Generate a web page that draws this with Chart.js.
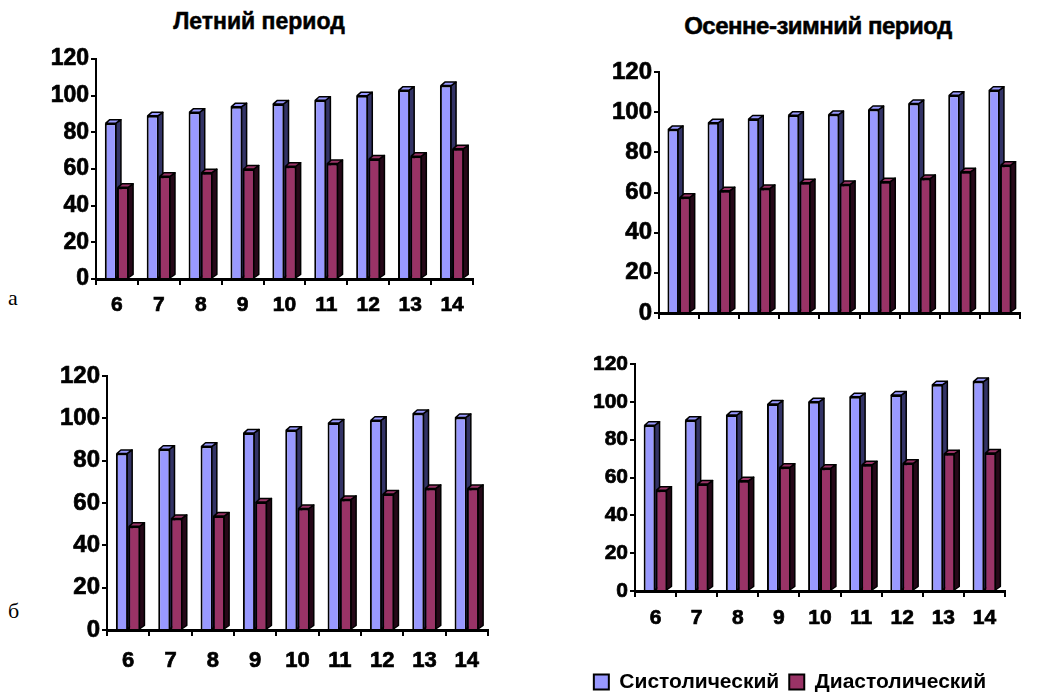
<!DOCTYPE html>
<html>
<head>
<meta charset="utf-8">
<script src="https://cdn.jsdelivr.net/npm/chart.js@4.4.1/dist/chart.umd.min.js"></script>
<style>
  html, body { margin: 0; padding: 0; background: #fff; width: 1062px; height: 697px; overflow: hidden; }
  canvas { position: absolute; left: 0; top: 0; }
  .title { position: absolute; font-family: 'Liberation Sans', Arial, sans-serif; font-weight: bold; color: #000;
           white-space: nowrap; transform: translate(-50%, -50%); -webkit-text-stroke: 0.5px #000; }
  .mark { position: absolute; font-family: 'Liberation Serif', 'Times New Roman', serif; font-size: 22px; color: #000; }
</style>
</head>
<body>
<div class="title" style="left:259px; top:21px; font-size:23px;">Летний период</div>
<div class="title" style="left:818px; top:26px; font-size:24px; letter-spacing:-0.5px;">Осенне-зимний период</div>
<div class="mark" style="left:8px; top:285px;">а</div>
<div class="mark" style="left:8px; top:598px;">б</div>
<canvas id="chartA" width="1062" height="720"></canvas>
<canvas id="chartB" width="1062" height="720"></canvas>
<canvas id="chartC" width="1062" height="720"></canvas>
<canvas id="chartD" width="1062" height="720"></canvas>
<script>
// ages (years) on the x axis
const ages = ['6', '7', '8', '9', '10', '11', '12', '13', '14'];
const seriesNames = ['Систолический', 'Диастолический'];

// а: summer / autumn-winter
const summerSysA = [85, 89, 91, 94, 95.5, 97.5, 100, 103, 105.5];
const summerDiaA = [50, 56, 58, 60, 61.5, 63, 65.5, 67, 71];
const autumnSysA = [91.4, 94.7, 96.6, 98.5, 98.8, 101.3, 104.3, 108.4, 110.9];
const autumnDiaA = [57.6, 60.9, 62, 64.9, 64, 65.4, 67, 70.3, 73.6];

// б: summer / autumn-winter
const summerSysB = [83.4, 85.4, 86.8, 93.1, 94.4, 97.8, 99.1, 102.3, 100.4];
const summerDiaB = [49, 52.7, 53.8, 60.5, 57.4, 61.7, 64.2, 66.9, 66.9];
const autumnSysB = [87.6, 90.3, 93, 98.8, 100, 102.7, 103.6, 109, 110.7];
const autumnDiaB = [53.3, 56.5, 58.3, 65.4, 64.9, 66.7, 67.5, 72.5, 72.9];

const yMin = 0, yMax = 120, yStep = 20;

const frontColors = ['#9999FF', '#993366'];
const sideColors = ['#333366', '#260818'];
const topColors = ['#9999FF', '#993366'];
const FONT = "'Liberation Sans', Arial, sans-serif";
const W = 1062, H = 720;
const DX = 4, DY = 3.5;

function drawDepth(ctx, bar, side, top) {
  const p = bar.getProps(['x', 'y', 'base', 'width'], true);
  const l = p.x - p.width / 2, r = p.x + p.width / 2;
  ctx.lineWidth = 1.5;
  ctx.strokeStyle = '#000';
  ctx.lineJoin = 'round';
  ctx.fillStyle = side;
  ctx.beginPath();
  ctx.moveTo(r - 1, p.y); ctx.lineTo(r + DX, p.y - DY);
  ctx.lineTo(r + DX, p.base - DY); ctx.lineTo(r - 1, p.base);
  ctx.closePath(); ctx.fill(); ctx.stroke();
  ctx.fillStyle = top;
  ctx.beginPath();
  ctx.moveTo(l + 1, p.y); ctx.lineTo(l + 1 + DX, p.y - DY);
  ctx.lineTo(r + DX, p.y - DY); ctx.lineTo(r - 1, p.y);
  ctx.closePath(); ctx.fill(); ctx.stroke();
}

// fake Excel 3D look: side + top faces, red front redrawn over blue side
const depth3d = {
  id: 'depth3d',
  afterDatasetsDraw(chart) {
    const ctx = chart.ctx;
    const m0 = chart.getDatasetMeta(0), m1 = chart.getDatasetMeta(1);
    ctx.save();
    m0.data.forEach((bar, i) => {
      drawDepth(ctx, bar, sideColors[0], topColors[0]);
      m1.data[i].draw(ctx);
      drawDepth(ctx, m1.data[i], sideColors[1], topColors[1]);
    });
    ctx.restore();
  }
};

function buildChart(id, sys, dia, g) {
  const yw = 60;
  return new Chart(document.getElementById(id), {
    type: 'bar',
    data: {
      labels: ages,
      datasets: [
        { label: seriesNames[0], data: sys, backgroundColor: frontColors[0], borderColor: '#000', borderWidth: 2 },
        { label: seriesNames[1], data: dia, backgroundColor: frontColors[1], borderColor: '#000', borderWidth: 2 }
      ]
    },
    options: {
      responsive: false,
      animation: false,
      events: [],
      datasets: { bar: { categoryPercentage: 0.58, barPercentage: 1 } },
      layout: { padding: { left: g.left - yw, top: g.top, right: W - g.right, bottom: g.padBottom } },
      plugins: {
        tooltip: { enabled: false },
        legend: {
          display: !!g.legend,
          position: 'bottom',
          labels: { color: '#000', font: { family: FONT, size: 21, weight: 'bold' }, boxWidth: 15, boxHeight: 15, padding: 10 }
        }
      },
      scales: {
        x: {
          grid: { display: true, drawOnChartArea: false, drawTicks: true, tickLength: 6, color: '#000', lineWidth: 2 },
          border: { display: true, color: '#000', width: 3 },
          ticks: { display: g.xLabels, color: '#000', font: { family: FONT, size: g.xFont, weight: 'bold' }, padding: g.xPad,
                   maxRotation: 0, textStrokeColor: '#000', textStrokeWidth: 0.7 },
          afterFit: s => { s.height = g.xh; }
        },
        y: {
          min: yMin, max: yMax,
          ticks: { stepSize: yStep, color: '#000', font: { family: FONT, size: g.yFont, weight: 'bold' }, padding: 2,
                   textStrokeColor: '#000', textStrokeWidth: 0.7 },
          grid: { display: true, drawOnChartArea: false, tickLength: 5, color: '#000', lineWidth: 2 },
          border: { display: true, color: '#000', width: 2 },
          afterFit: s => { s.width = yw; }
        }
      }
    },
    plugins: [depth3d]
  });
}

buildChart('chartA', summerSysA, summerDiaA,
  { left: 96, top: 59, right: 473, bottom: 279, xh: 40, padBottom: H - 279 - 40, xLabels: true, xFont: 21, xPad: 8, yFont: 23 });
buildChart('chartB', autumnSysA, autumnDiaA,
  { left: 659, top: 72, right: 1020, bottom: 313, xh: 20, padBottom: H - 313 - 20, xLabels: false, xFont: 20, xPad: 9, yFont: 24 });
buildChart('chartC', summerSysB, summerDiaB,
  { left: 107, top: 376, right: 488, bottom: 630, xh: 45, padBottom: H - 630 - 45, xLabels: true, xFont: 22, xPad: 12, yFont: 24 });
buildChart('chartD', autumnSysB, autumnDiaB,
  { left: 635, top: 364, right: 1005, bottom: 589, xh: 70.5, padBottom: 17.5, xLabels: true, xFont: 21, xPad: 9, yFont: 21, legend: true });
</script>
</body>
</html>
